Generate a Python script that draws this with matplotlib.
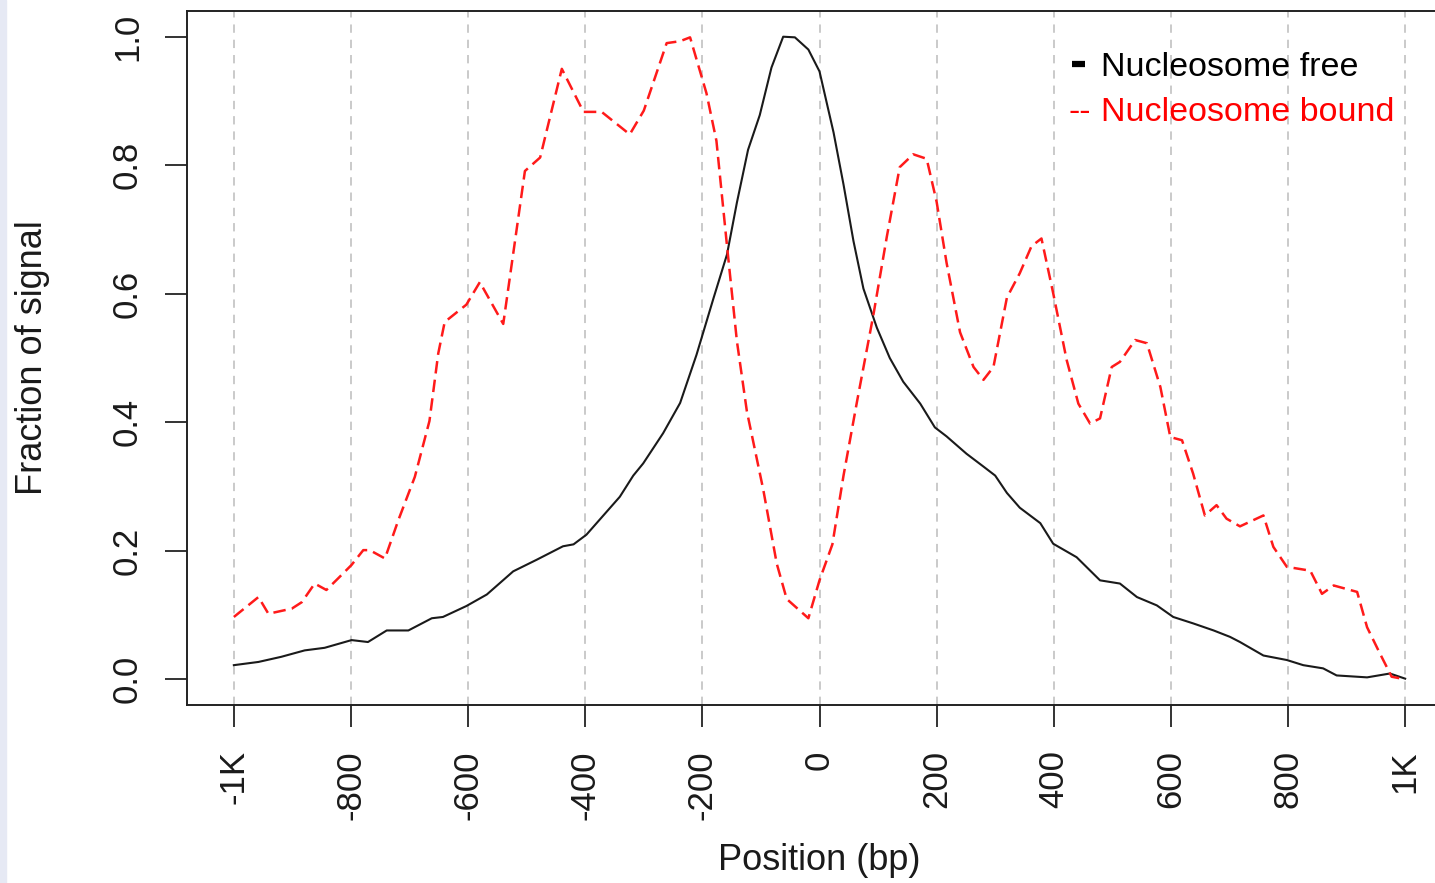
import matplotlib
matplotlib.use('Agg')
import matplotlib.pyplot as plt
from matplotlib.lines import Line2D
from matplotlib.patches import Rectangle

# ---------------- data ----------------
nf_pos = [-1000, -958, -919, -879, -845, -799, -771, -739, -702, -662, -643, -603,
          -568, -523, -483, -438, -420, -398, -341, -318, -301, -267, -238, -210,
          -181, -158, -141, -122, -102, -82, -62, -42, -19, 0, 24, 41, 58, 75, 98,
          120, 143, 172, 197, 217, 251, 280, 300, 320, 342, 377, 399, 439, 479,
          513, 542, 576, 604, 638, 673, 701, 718, 758, 798, 826, 860, 883, 935,
          974, 1000]
nf_signal = [0.022, 0.027, 0.035, 0.045, 0.049, 0.061, 0.058, 0.076, 0.076, 0.095,
             0.097, 0.114, 0.132, 0.168, 0.186, 0.207, 0.210, 0.225, 0.284, 0.317,
             0.336, 0.383, 0.430, 0.505, 0.593, 0.661, 0.742, 0.824, 0.878, 0.952,
             1.000, 0.999, 0.980, 0.946, 0.851, 0.770, 0.682, 0.608, 0.547, 0.500,
             0.463, 0.429, 0.392, 0.378, 0.351, 0.331, 0.317, 0.290, 0.267, 0.243,
             0.211, 0.190, 0.154, 0.149, 0.128, 0.115, 0.097, 0.087, 0.076, 0.066,
             0.058, 0.037, 0.030, 0.022, 0.017, 0.006, 0.003, 0.009, 0.001]

nb_pos = [-1000, -958, -941, -901, -884, -862, -842, -822, -799, -779, -768, -742,
          -719, -691, -666, -651, -640, -603, -580, -540, -503, -477, -440, -403,
          -372, -324, -300, -261, -238, -221, -193, -176, -158, -141, -124, -96,
          -73, -56, -19, 0, 22, 41, 64, 92, 115, 137, 160, 183, 200, 217, 240, 263,
          280, 297, 320, 342, 362, 379, 399, 422, 442, 462, 479, 499, 513, 539,
          559, 582, 599, 619, 638, 658, 678, 695, 718, 758, 775, 798, 838, 858,
          878, 918, 935, 957, 977, 1000]
nb_signal = [0.097, 0.128, 0.102, 0.110, 0.120, 0.149, 0.139, 0.157, 0.178, 0.201,
             0.201, 0.188, 0.248, 0.315, 0.402, 0.507, 0.556, 0.583, 0.618, 0.553,
             0.791, 0.812, 0.950, 0.883, 0.883, 0.848, 0.885, 0.990, 0.993, 0.999,
             0.912, 0.838, 0.675, 0.526, 0.417, 0.295, 0.180, 0.125, 0.095, 0.154,
             0.210, 0.317, 0.432, 0.567, 0.689, 0.797, 0.817, 0.810, 0.743, 0.648,
             0.540, 0.486, 0.466, 0.486, 0.594, 0.632, 0.674, 0.686, 0.601, 0.497,
             0.429, 0.398, 0.406, 0.486, 0.494, 0.528, 0.523, 0.455, 0.377, 0.372,
             0.320, 0.255, 0.271, 0.250, 0.238, 0.255, 0.206, 0.175, 0.169, 0.133,
             0.146, 0.136, 0.081, 0.040, 0.004, 0.000]

xtick_vals = [-1000, -800, -600, -400, -200, 0, 200, 400, 600, 800, 1000]
xtick_labels = ['-1K', '-800', '-600', '-400', '-200', '0', '200', '400', '600', '800', '1K']
ytick_vals = [0.0, 0.2, 0.4, 0.6, 0.8, 1.0]
ytick_labels = ['0.0', '0.2', '0.4', '0.6', '0.8', '1.0']
legend_labels = ['Nucleosome free', 'Nucleosome bound']

# ---------------- figure ----------------
plt.rcParams['font.family'] = ['Liberation Sans', 'DejaVu Sans']
plt.rcParams['lines.scale_dashes'] = False

W, H = 1435, 883
fig = plt.figure(figsize=(W / 100, H / 100), dpi=100)
fig.patches.append(Rectangle((0, 0), 6 / W, 1, transform=fig.transFigure,
                             color='#e6e9f4', zorder=0))

ax = fig.add_axes([187 / W, 1 - 705 / H, 1265 / W, 694 / H])
ax.set_xlim(-1080, 1080)
ax.set_ylim(-0.04, 1.04)

for xv in xtick_vals:
    ax.axvline(xv, color='#c6c6c6', lw=1.3, linestyle=(0, (6, 5)), zorder=1)

ax.plot(nf_pos, nf_signal, color='#1a1a1a', lw=1.5, zorder=3,
        solid_joinstyle='round')
ax.plot(nb_pos, nb_signal, color='#ff1a1a', lw=1.8, zorder=3,
        linestyle=(0, (9, 4.5)))

for s in ['top', 'left', 'bottom', 'right']:
    ax.spines[s].set_color('#222222')
    ax.spines[s].set_linewidth(1.4)

ax.set_xticks(xtick_vals)
ax.set_xticklabels(xtick_labels, rotation=90)
ax.set_yticks(ytick_vals)
ax.set_yticklabels(ytick_labels, rotation=90, va='center')
ax.tick_params(axis='both', length=16, width=1.4, color='#333333',
               labelsize=25, labelcolor='#1a1a1a')
ax.tick_params(axis='x', pad=16.5)
ax.tick_params(axis='y', pad=15)

# axis labels
fig.text(33 / W, 1 - 358 / H, 'Fraction of signal', rotation=90,
         ha='center', va='center', fontsize=26, color='#1a1a1a')
fig.text(819.5 / W, 1 - 860 / H, 'Position (bp)', ha='center', va='center',
         fontsize=26, color='#1a1a1a')

# legend
fig.lines.append(Line2D([1072 / W, 1085 / W], [1 - 64 / H, 1 - 64 / H],
                        transform=fig.transFigure, color='black', lw=4.5,
                        solid_capstyle='butt'))
fig.text(1101 / W, 1 - 76 / H, legend_labels[0], ha='left', va='baseline',
         fontsize=24.5, color='black')
fig.text(1069 / W, 1 - 121 / H, '--', ha='left', va='baseline',
         fontsize=24.5, color='#ff0000')
fig.text(1101 / W, 1 - 121 / H, legend_labels[1], ha='left', va='baseline',
         fontsize=24.5, color='#ff0000')

fig.savefig('out.png', dpi=100)
